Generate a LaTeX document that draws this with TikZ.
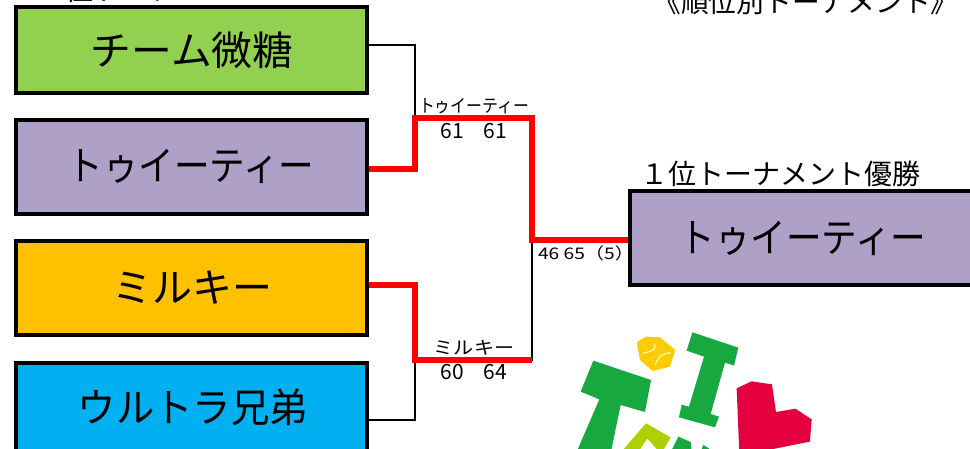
\documentclass[tikz,border=0pt]{standalone}
\usepackage{fontspec}
\usepackage{graphicx}
\setmainfont{Noto Sans CJK JP}
\definecolor{gr}{HTML}{92D050}
\definecolor{pu}{HTML}{AFA0C8}
\definecolor{am}{HTML}{FFC000}
\definecolor{bl}{HTML}{00B0F0}
\definecolor{logog}{HTML}{17A93F}
\definecolor{logoy}{HTML}{FFCB05}
\definecolor{logor}{HTML}{E4003F}
\definecolor{logol}{HTML}{AFCF00}
\newcommand{\sq}[2]{\scalebox{#1}[1]{#2}}
\tikzset{x=1pt,y=-1pt,
 team/.style={draw=black,line width=4pt,minimum width=351pt,inner sep=0pt,anchor=north west},
 label/.style={inner sep=0pt,font=\fontsize{40}{40}\selectfont},
 thin/.style={draw=black,line width=1.4pt},
 win/.style={draw=red,line width=5.5pt,miter limit=10},
 small/.style={inner sep=0pt,font=\fontsize{18}{18}\selectfont},
 score/.style={inner sep=0pt,font=\fontsize{21}{21}\selectfont},
 head/.style={inner sep=0pt,font=\fontsize{28}{28}\selectfont}}
\begin{document}
\begin{tikzpicture}
\useasboundingbox (0,0) rectangle (970,449);
\clip (0,0) rectangle (970,449);
\begin{scope}
\clip (0,0) rectangle (170,10);
\node[head,anchor=west] (t1) at (37,-10) {１位トーナメント};
\end{scope}
\node[head,anchor=center] (t2) at (806,2) {\sq{0.99}{《順位別トーナメント》}};
\node[team,fill=gr,minimum height=86pt] (b1) at (14,5) {};
\node[team,fill=pu,minimum height=94pt] (b2) at (14,118) {};
\node[team,fill=am,minimum height=94pt] (b3) at (14,239) {};
\node[team,fill=bl,minimum height=94pt] (b4) at (14,361) {};
\node[team,fill=pu,minimum height=94pt,minimum width=350pt] (w) at (628,189) {};
\node[label] (l1) at (192,50) {\sq{1.02}{チーム微糖}};
\node[label] (l2) at (191,166) {\sq{0.89}{トゥイーティー}};
\node[label] (l3) at (192,288) {\sq{1}{ミルキー}};
\node[label] (l4) at (193,407) {\sq{0.96}{ウルトラ兄弟}};
\node[label] (l5) at (803,238) {\sq{0.89}{トゥイーティー}};
\coordinate (j1) at (415,118);
\coordinate (j2) at (415,360);
\coordinate (f1) at (532,240);
\coordinate (e1) at (369,45);
\coordinate (e2) at (369,169);
\coordinate (e3) at (369,285);
\coordinate (e4) at (369,420);
\draw[thin] (e1) -| (j1);
\draw[thin] (e4) -| (j2);
\draw[thin] (j2) -| (f1);
\draw[win] (e3) -| (j2) -- ++(117,0);
\draw[win] (e2) -| (j1) -| (f1) -- (w.west |- f1);
\node[small] (n1) at (474,106) {\sq{0.88}{トゥイーティー}};
\node[score] (n2) at (474,131) {61\hspace{20pt}61};
\node[small] (n3) at (474,348) {\sq{1.12}{ミルキー}};
\node[score] (n4) at (474,372) {60\hspace{20pt}64};
\node[inner sep=0pt,font=\fontsize{16}{16}\selectfont] (n5) at (586,253) {\sq{1.2}{46 65（5）}};
\node[head,anchor=center] (n6) at (780,174) {\sq{1}{１位トーナメント優勝}};
% logo
\begin{scope}[shift={(560,310)},x=0.3333pt,y=-0.3333pt]
\fill[logog] (397,67)--(535,113)--(522,167)--(495,158)--(452,312)--(477,320)--(465,352)--(357,322)--(365,284)--(387,290)--(432,140)--(380,122)--cycle;
\fill[logog] (100,152)--(273,210)--(255,306)--(182,285)--(152,430)--(48,430)--(118,268)--(62,245)--cycle;
\fill[logoy] (230,97)--(258,80)--(300,82)--(346,120)--(330,170)--(278,183)--(240,150)--cycle;
\draw[line width=1.3pt,draw=yellow!40!white] (285,100) .. controls (285,120) .. (250,130);
\draw[line width=1.3pt,draw=yellow!40!white] (332,128) .. controls (300,135) .. (285,165);
\fill[logor] (530,235)--(575,214)--(636,223)--(648,306)--(706,296)--(755,328)--(750,395)--(640,417)--(538,430)--cycle;
\fill[logol] (258,340)--(332,382)--(312,417)--(290,417)--(262,385)--(232,430)--(180,430)--cycle;
\fill[logog] (355,380)--(392,396)--(396,430)--(330,430)--cycle;
\fill[logog] (430,405)--(470,430)--(420,430)--cycle;
\end{scope}
\end{tikzpicture}
\end{document}
